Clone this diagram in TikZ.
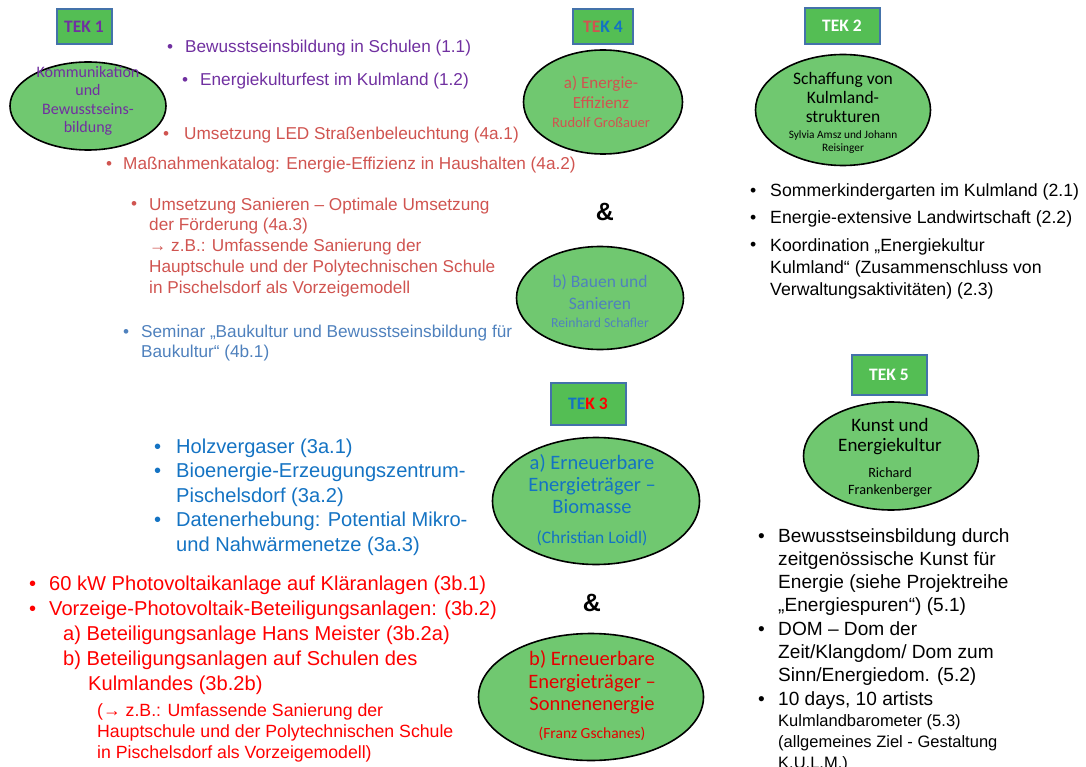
\documentclass[tikz,border=0pt]{standalone}
\usepackage{fontspec}
\setmainfont{Liberation Sans}
\newfontfamily\calfont{Carlito}
\usetikzlibrary{shapes.geometric}
\definecolor{tekfill}{RGB}{84,190,84}
\definecolor{tekline}{RGB}{68,114,170}
\definecolor{ovalfill}{RGB}{112,200,112}
\definecolor{lila}{RGB}{112,48,160}
\definecolor{hellrot}{RGB}{208,84,80}
\definecolor{stahlblau}{RGB}{79,129,189}
\definecolor{blau}{RGB}{20,115,195}
\definecolor{rot}{RGB}{255,0,0}
\newcommand{\fsz}[2]{\fontsize{#1}{#2}\selectfont}

\begin{document}
\begin{tikzpicture}[x=1pt, y=-1pt, inner sep=0pt]
    \tikzstyle{tek}=[draw=tekline, line width=2pt, fill=tekfill, font=\calfont\bfseries\fsz{17.5}{20}]
    \tikzstyle{oval}=[ellipse, draw=black, line width=1.6pt, fill=ovalfill]
    \tikzstyle{otext}=[align=center]
    \tikzstyle{bul}=[anchor=base west]
    % multi-line texts: anchored at the baseline of their last line
    \tikzstyle{txt}=[anchor=base west, align=left]

    \useasboundingbox (0,0) rectangle (1086,767);

    % TEK 1
    \node[tek, minimum width=55, minimum height=35, text=lila] (t1) at (84,27) {TEK 1};
    \node[oval, minimum width=156, minimum height=88] (k1) at (88,106) {};
    \node[otext, text=lila, font=\calfont\fsz{16}{18.5}] (k1t) at (88,101)
        {Kommunikation\\und\\Bewusstseins-\\bildung};
    \begin{scope}[text=lila, font=\fsz{17.2}{20.8}]
        \node[bul] (b11) at (167,53) {\textbullet};
        \node[txt] (i11) at (185,53) {Bewusstseinsbildung in Schulen (1.1)};
        \node[bul] (b12) at (182,86) {\textbullet};
        \node[txt] (i12) at (200,86) {Energiekulturfest im Kulmland (1.2)};
    \end{scope}

    % TEK 4
    \node[tek, minimum width=60, minimum height=35] (t4) at (603,27)
        {\textcolor{hellrot}{TE}\textcolor{blau}{K 4}};
    \node[oval, minimum width=159, minimum height=104] (k4a) at (603,102) {};
    \node[otext, text=hellrot, font=\calfont\fsz{17}{20}] (k4at) at (601,102)
        {a) Energie-\\Effizienz\\[-1pt]{\fsz{14.5}{16}Rudolf Großauer}};
    \node[font=\bfseries\fsz{25}{28}] (amp1) at (605,212) {\&};
    \node[oval, minimum width=167, minimum height=103] (k4b) at (600,298) {};
    \node[otext, text=stahlblau, font=\calfont\fsz{17.5}{22}] (k4bt) at (600,301)
        {b) Bauen und\\Sanieren\\[-4pt]{\fsz{13.7}{16}Reinhard Schafler}};
    \begin{scope}[text=hellrot, font=\fsz{17.2}{20.8}]
        \node[bul] (b41) at (163,140) {\textbullet};
        \node[txt] (i41) at (184,140) {Umsetzung LED Straßenbeleuchtung (4a.1)};
        \node[bul] (b42) at (106,170) {\textbullet};
        \node[txt] (i42) at (123,170) {Maßnahmenkatalog: Energie-Effizienz in Haushalten (4a.2)};
        \node[bul] (b43) at (131,210) {\textbullet};
        \node[txt] (i43) at (149,293.2) {Umsetzung Sanieren – Optimale Umsetzung\\der Förderung (4a.3)\\→ z.B.: Umfassende Sanierung der\\Hauptschule und der Polytechnischen Schule\\in Pischelsdorf als Vorzeigemodell};
    \end{scope}
    \begin{scope}[text=stahlblau, font=\fsz{17.2}{20.8}]
        \node[bul] (b44) at (123,337) {\textbullet};
        \node[txt] (i44) at (141,357.8) {Seminar „Baukultur und Bewusstseinsbildung für\\Baukultur“ (4b.1)};
    \end{scope}

    % TEK 2
    \node[tek, minimum width=75, minimum height=36, text=white] (t2) at (842,26) {TEK 2};
    \node[oval, minimum width=175, minimum height=111] (k2) at (843,110) {};
    \node[otext, font=\calfont\fsz{17.5}{19}] (k2t) at (843,113)
        {Schaffung von\\Kulmland-\\strukturen\\[-3pt]{\fsz{11.3}{13}Sylvia Amsz und Johann}\\[-6pt]{\fsz{11.3}{13}Reisinger}};
    \begin{scope}[font=\fsz{17.7}{22}]
        \node[bul] (b21) at (750,197) {\textbullet};
        \node[txt] (i21) at (770,197) {Sommerkindergarten im Kulmland (2.1)};
        \node[bul] (b22) at (750,224) {\textbullet};
        \node[txt] (i22) at (770,224) {Energie-extensive Landwirtschaft (2.2)};
        \node[bul] (b23) at (750,251) {\textbullet};
        \node[txt] (i23) at (770,295) {Koordination „Energiekultur\\Kulmland“ (Zusammenschluss von\\Verwaltungsaktivitäten) (2.3)};
    \end{scope}

    % TEK 3
    \node[tek, minimum width=75, minimum height=42] (t3) at (588,404)
        {\textcolor{blau}{TE}\textcolor{rot}{K 3}};
    \node[oval, minimum width=207, minimum height=127] (k3a) at (596,501) {};
    \node[otext, text=blau, font=\calfont\fsz{20.5}{22}] (k3at) at (592,500)
        {a) Erneuerbare\\Energieträger –\\Biomasse\\[8pt]{\fsz{17.5}{20}(Christian  Loidl)}};
    \node[font=\bfseries\fsz{25}{28}] (amp2) at (592,603) {\&};
    \node[oval, minimum width=225, minimum height=127] (k3b) at (591,697) {};
    \node[otext, text=rot!90!black, font=\calfont\fsz{20.5}{22.5}] (k3bt) at (592,696)
        {b) Erneuerbare\\Energieträger –\\Sonnenenergie\\[5.5pt]{\fsz{15.5}{18}(Franz Gschanes)}};
    \begin{scope}[text=blau, font=\fsz{20.1}{24.5}]
        \node[bul] (b31) at (154,453) {\textbullet};
        \node[txt] (i31) at (176,453) {Holzvergaser (3a.1)};
        \node[bul] (b32) at (154,477.5) {\textbullet};
        \node[txt] (i32) at (176,502) {Bioenergie-Erzeugungszentrum-\\Pischelsdorf (3a.2)};
        \node[bul] (b33) at (154,526.5) {\textbullet};
        \node[txt] (i33) at (176,551) {Datenerhebung: Potential Mikro-\\und Nahwärmenetze (3a.3)};
    \end{scope}
    \begin{scope}[text=rot, font=\fsz{20.1}{25}]
        \node[bul] (b34) at (29,590) {\textbullet};
        \node[txt] (i34) at (49,590) {60 kW Photovoltaikanlage auf Kläranlagen (3b.1)};
        \node[bul] (b35) at (29,615) {\textbullet};
        \node[txt] (i35) at (49,615) {Vorzeige-Photovoltaik-Beteiligungsanlagen: (3b.2)};
        \node[txt] (i36) at (63,640) {a) Beteiligungsanlage Hans Meister (3b.2a)};
        \node[txt] (i37) at (63,690) {b) Beteiligungsanlagen auf Schulen des\\\hspace*{25pt}Kulmlandes (3b.2b)};
        \node[txt, font=\fsz{17.7}{21.3}] (i38) at (97,758.6) {(→ z.B.: Umfassende Sanierung der\\Hauptschule und der Polytechnischen Schule\\in Pischelsdorf als Vorzeigemodell)};
    \end{scope}

    % TEK 5
    \node[tek, minimum width=75, minimum height=40, text=white] (t5) at (889,375) {TEK 5};
    \node[oval, minimum width=175, minimum height=108] (k5) at (891,456) {};
    \node[otext, font=\calfont\fsz{19}{20}] (k5t) at (890,458)
        {Kunst und\\Energiekultur\\[6pt]{\fsz{14.2}{17}Richard}\\[-3pt]{\fsz{14.2}{17}Frankenberger}};
    \begin{scope}[font=\fsz{19.1}{23.3}]
        \node[bul] (b51) at (758,542) {\textbullet};
        \node[txt] (i51) at (778,611.9) {Bewusstseinsbildung durch\\zeitgenössische Kunst für\\Energie (siehe Projektreihe\\„Energiespuren“) (5.1)};
        \node[bul] (b52) at (758,635) {\textbullet};
        \node[txt] (i52) at (778,681.6) {DOM – Dom der\\Zeit/Klangdom/ Dom zum\\Sinn/Energiedom. (5.2)};
        \node[bul] (b53) at (758,705) {\textbullet};
        \node[txt] (i53) at (778,705) {10 days, 10 artists};
        \node[txt, font=\fsz{16.5}{21}] (i54) at (778,768) {Kulmlandbarometer (5.3)\\(allgemeines Ziel - Gestaltung\\K.U.L.M.)};
    \end{scope}
\end{tikzpicture}
\end{document}
